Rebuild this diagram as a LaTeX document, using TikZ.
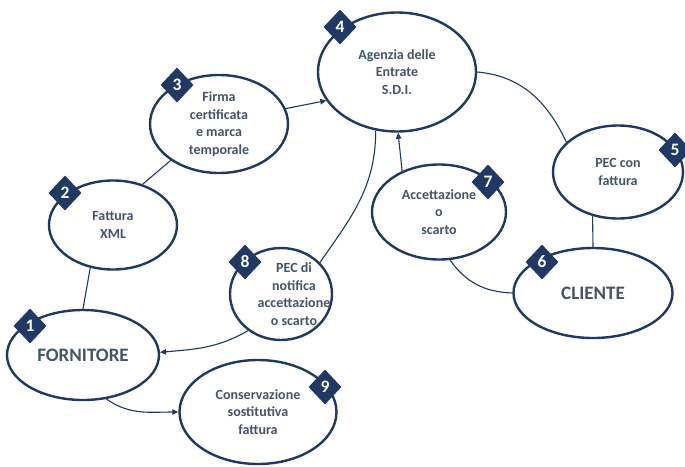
\documentclass[tikz,border=0pt]{standalone}
\usepackage{fontspec}
\setmainfont{Carlito}
\usetikzlibrary{shapes.geometric,arrows.meta}
\definecolor{navy}{HTML}{1F3864}
\definecolor{slate}{HTML}{44546A}

\begin{document}
\begin{tikzpicture}[x=1pt,y=-1pt,
  words/.style={text=slate,align=center,font=\fontsize{14}{17.6}\selectfont\bfseries},
  bubble/.style={ellipse,draw=navy,line width=2.4pt,fill=white,inner sep=0pt,words},
  bigname/.style={font=\fontsize{19}{22}\selectfont\bfseries},
  badge/.style={diamond,fill=navy,text=white,inner sep=0pt,minimum width=33,minimum height=35,font=\fontsize{17.5}{17.5}\selectfont\bfseries},
  link/.style={draw=navy,line width=1.1pt},
  flow/.style={link,-{Triangle[length=6pt,width=5.5pt]}}]
\useasboundingbox (0,0) rectangle (685,466);
% fasi
\node[bubble,bigname,minimum width=152,minimum height=90] (forn) at (83,355) {FORNITORE};
\node[bubble,minimum width=128,minimum height=89] (xml) at (113,225) {Fattura\\XML};
\node[bubble,minimum width=138,minimum height=98] (firma) at (219,124) {Firma\\certificata\\e marca\\temporale};
\node[bubble,minimum width=158,minimum height=119] (sdi) at (397,72) {Agenzia delle\\Entrate\\S.D.I.};
\node[bubble,minimum width=130,minimum height=93] (pec) at (618,172) {PEC con\\fattura};
\node[bubble,bigname,minimum width=159,minimum height=90] (cli) at (593,293) {CLIENTE};
\node[bubble,minimum width=134,minimum height=95] (acc) at (439,212) {Accettazione\\o\\scarto};
\node[bubble,minimum width=102,minimum height=92,label={[words,xshift=13pt]center:PEC di\\notifica\\accettazione\\o scarto}] (notif) at (281,294) {};
\node[bubble,minimum width=157,minimum height=104] (cons) at (258,412) {Conservazione\\sostitutiva\\fattura};
% numeri
\foreach \bx/\by/\num in {30/326/1,65/193/2,177/85/3,340/27/4,675/150/5,542/262/6,488/182/7,245/262/8,325/387/9}
  \node[badge] (b\num) at (\bx,\by) {\num};
% collegamenti
\draw[link] (forn.90) -- (xml.242);
\draw[link] (xml.54) -- (firma.217);
\draw[flow] (firma.13) -- (sdi.202);
\draw[link] (sdi.0) to[out=-5,in=115] (pec.150);
\draw[link] (pec.240) -- (cli.90);
\draw[link] (cli.180) to[out=178,in=-55] (acc.283);
\draw[flow] (acc.132) -- (sdi.271);
\draw[link] (sdi.250) to[out=-90,in=55] (notif.39);
\draw[flow] (notif.228) to[out=210,in=5] (forn.2);
\draw[flow] (forn.298) to[out=-35,in=180] (cons.180);
\end{tikzpicture}
\end{document}
